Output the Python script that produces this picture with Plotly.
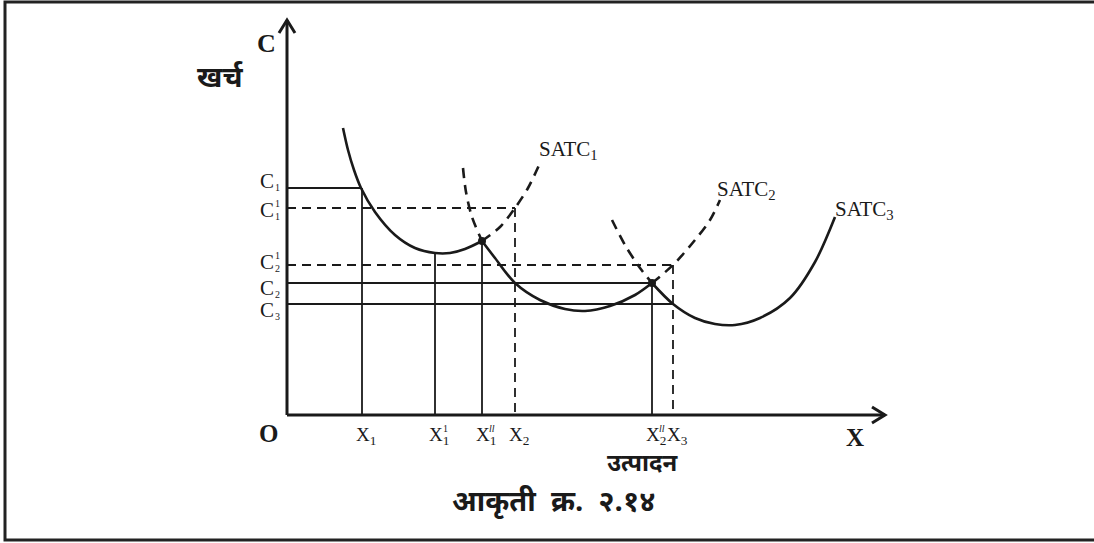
import plotly.graph_objects as go

# cost curves (x = output, y = cost, screen-style units, y grows downward)
satc1_x = [343, 348, 354, 361, 375, 395, 415, 435, 450, 465, 482]
satc1_y = [128, 150, 170, 188, 212, 235, 248, 253, 253, 249, 241]
satc1_left_x = [463, 466, 472, 482]
satc1_left_y = [168, 192, 217, 241]
satc1_right_x = [482, 500, 515, 528, 540]
satc1_right_y = [241, 227, 208, 188, 163]

satc2_x = [482, 495, 515, 540, 565, 585, 610, 635, 652]
satc2_y = [241, 258, 283, 300, 309, 311, 306, 295, 283]
satc2_left_x = [612, 625, 640, 652]
satc2_left_y = [220, 245, 268, 283]
satc2_right_x = [652, 673, 695, 710, 720]
satc2_right_y = [283, 265, 240, 220, 200]

satc3_x = [652, 673, 695, 715, 735, 760, 790, 815, 835]
satc3_y = [283, 304, 318, 324, 325, 318, 298, 262, 217]

# tangency points
dot_x = [482, 652]
dot_y = [241, 283]

# axis
origin = (287, 415)
y_top = 20
x_end = 885

# output marks on the x axis
x_names = ["X<sub>1</sub>", "X<sub>1</sub>", "X<sub>1</sub>", "X<sub>2</sub>", "X<sub>2</sub>", "X<sub>3</sub>"]
x_sup = ["", "1", "<i>ll</i>", "", "<i>ll</i>", ""]
x_vals = [362, 435, 482, 515, 652, 673]
x_tops = [188, 252, 241, 208, 283, 265]
x_dash = [False, False, False, True, False, True]

# cost marks on the y axis
c_sub = ["1", "1", "2", "2", "3"]
c_sup = ["", "1", "1", "", ""]
c_vals = [188, 208, 265, 283, 304]
c_ends = [362, 515, 673, 652, 673]
c_dash = [False, True, True, False, False]
c_shift = [-7, 2, -3, 5, 6]   # label nudge from its line

curve_labels = ["SATC<sub>1</sub>", "SATC<sub>2</sub>", "SATC<sub>3</sub>"]
curve_lab_x = [568, 746, 864]
curve_lab_y = [150, 190, 210]

serif = "Liberation Serif, Times New Roman, serif"
deva = "Noto Sans Devanagari, Lohit Devanagari, Mangal, Noto Sans, sans-serif"
ink = "#1a1a1a"

fig = go.Figure()

def curve(xs, ys, dash="solid", w=2.6):
    fig.add_trace(go.Scatter(x=xs, y=ys, mode="lines", line=dict(color=ink, width=w, dash=dash, shape="spline", smoothing=0.9),
                             hoverinfo="skip", showlegend=False))

curve(satc1_x, satc1_y)
curve(satc1_left_x, satc1_left_y, "10px,7px")
curve(satc1_right_x, satc1_right_y, "10px,7px")
curve(satc2_x, satc2_y)
curve(satc2_left_x, satc2_left_y, "10px,7px")
curve(satc2_right_x, satc2_right_y, "10px,7px")
curve(satc3_x, satc3_y)

# guide lines
for xv, top, d in zip(x_vals, x_tops, x_dash):
    fig.add_trace(go.Scatter(x=[xv, xv], y=[top, origin[1]], mode="lines",
                             line=dict(color=ink, width=1.8, dash="9px,6px" if d else "solid"),
                             hoverinfo="skip", showlegend=False))
for cv, end, d in zip(c_vals, c_ends, c_dash):
    fig.add_trace(go.Scatter(x=[origin[0], end], y=[cv, cv], mode="lines",
                             line=dict(color=ink, width=1.8, dash="9px,6px" if d else "solid"),
                             hoverinfo="skip", showlegend=False))

fig.add_trace(go.Scatter(x=dot_x, y=dot_y, mode="markers", marker=dict(color=ink, size=8),
                         hoverinfo="skip", showlegend=False))

# axes with open arrow heads
ah = 13
fig.add_trace(go.Scatter(x=[origin[0], origin[0], None, origin[0] - 8, origin[0], origin[0] + 8],
                         y=[origin[1], y_top, None, y_top + ah, y_top, y_top + ah],
                         mode="lines", line=dict(color=ink, width=3), hoverinfo="skip", showlegend=False))
fig.add_trace(go.Scatter(x=[origin[0], x_end, None, x_end - ah, x_end, x_end - ah],
                         y=[origin[1], origin[1], None, origin[1] - 8, origin[1], origin[1] + 8],
                         mode="lines", line=dict(color=ink, width=3), hoverinfo="skip", showlegend=False))

ann = []
def txt(x, y, t, size=18, fam=serif, **kw):
    ann.append(dict(x=x, y=y, text=t, showarrow=False, font=dict(family=fam, size=size, color=ink), **kw))

for xv, n, s in zip(x_vals, x_names, x_sup):
    txt(xv + 4, 436, n, 19)
    if s:
        txt(xv + 10, 428, s, 10)

for cv, sb, sp, sh in zip(c_vals, c_sub, c_sup, c_shift):
    cy = cv + sh
    txt(276, cy, "C", 21, xanchor="right")
    txt(282, cy + 6, sb, 10, xanchor="right")
    if sp:
        txt(282, cy - 7, sp, 10, xanchor="right")

for t, lx, ly in zip(curve_labels, curve_lab_x, curve_lab_y):
    txt(lx, ly, t, 21)

txt(266, 43, "<b>C</b>", 26)
txt(268, 433, "<b>O</b>", 25)
txt(855, 437, "<b>X</b>", 25)
txt(220, 80, "<b>खर्च</b>", 29, deva)
txt(643, 465, "<b>उत्पादन</b>", 24, deva)
txt(553, 504, "<b>आकृती&nbsp;&nbsp;क्र.&nbsp;&nbsp;२.१४</b>", 29, deva)

fig.update_layout(
    width=1094, height=543,
    margin=dict(l=0, r=0, t=0, b=0),
    paper_bgcolor="white", plot_bgcolor="white",
    xaxis=dict(range=[0, 1094], visible=False, fixedrange=True),
    yaxis=dict(range=[543, 0], visible=False, fixedrange=True),
    annotations=ann,
    shapes=[dict(type="rect", xref="x", yref="y", x0=5, y0=2, x1=1097, y1=540,
                 line=dict(color="#222", width=3))],
)

fig.write_html("out.html", config={"displayModeBar": False},
               post_script="document.body.style.margin='0';document.body.style.overflow='hidden';")
